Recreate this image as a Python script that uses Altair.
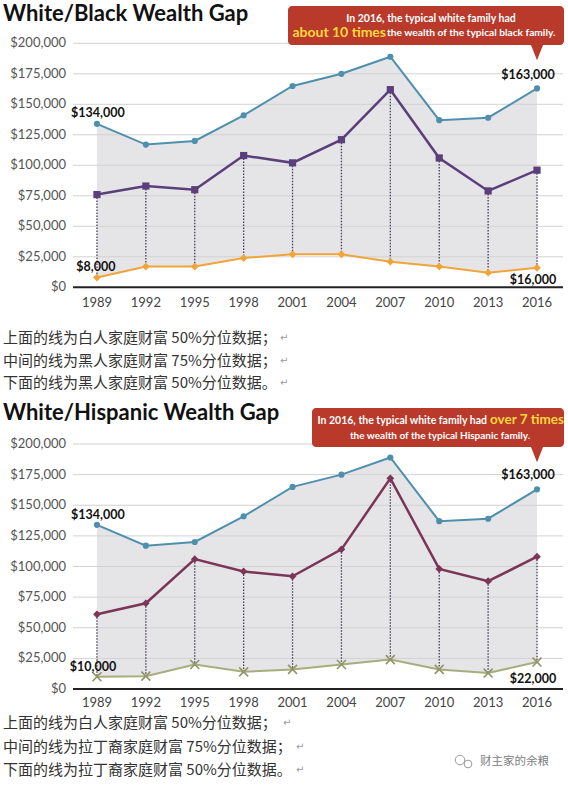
import altair as alt
import pandas as pd

# Survey years and family net worth series (2016 dollars)
years = [1989, 1992, 1995, 1998, 2001, 2004, 2007, 2010, 2013, 2016]
white_median = [134000, 117000, 120000, 141000, 165000, 175000, 189000, 137000, 139000, 163000]
black_p75 = [76000, 83000, 80000, 108000, 102000, 121000, 162000, 106000, 79000, 96000]
black_median = [8000, 17000, 17000, 24000, 27000, 27000, 21000, 17000, 12000, 16000]
hispanic_p75 = [61000, 70000, 106000, 96000, 92000, 114000, 172000, 98000, 88000, 108000]
hispanic_median = [10000, 10500, 20000, 14000, 16000, 20000, 24000, 16000, 13000, 22000]
y_ticks = [0, 25000, 50000, 75000, 100000, 125000, 150000, 175000, 200000]

titles = ["White/Black Wealth Gap", "White/Hispanic Wealth Gap"]
notes_black = [
    "上面的线为白人家庭财富 50%分位数据；",
    "中间的线为黑人家庭财富 75%分位数据；",
    "下面的线为黑人家庭财富 50%分位数据。",
]
notes_hispanic = [
    "上面的线为白人家庭财富 50%分位数据；",
    "中间的线为拉丁裔家庭财富 75%分位数据；",
    "下面的线为拉丁裔家庭财富 50%分位数据。",
]
watermark = "财主家的余粮"

FONT = "Lato"
RED = "#b9392a"
YELLOW = "#ffd83a"
WHITE_LINE = "#4f8fae"

xs = alt.Scale(domain=[1987.53, 2017.41], range=[73, 560])
X = alt.X("year:Q", scale=xs, axis=None)


def panel(mid, low, mid_color, mid_shape, mid_size, low_color, low_line_color,
          low_shape, low_size, low_filled, zero_px, top_px, xlab_y, labels):
    ys = alt.Scale(domain=[0, 200000], range=[zero_px, top_px])
    df = pd.DataFrame({"year": years, "white": white_median, "mid": mid, "low": low})
    ticks = pd.DataFrame({"v": y_ticks})
    base = alt.Chart(df)

    def Y(f):
        return alt.Y(f, scale=ys, axis=None)

    area = base.mark_area(color="#e5e5e8").encode(x=X, y=Y("white:Q"), y2="low:Q")
    grid = alt.Chart(ticks).transform_filter("datum.v > 0").mark_rule(
        color="#d2d2d2", strokeWidth=1
    ).encode(y=Y("v:Q"), x=alt.value(73), x2=alt.value(563))
    zero = alt.Chart(ticks).transform_filter("datum.v == 0").mark_rule(
        color="#222222", strokeWidth=2
    ).encode(y=Y("v:Q"), x=alt.value(73), x2=alt.value(563))
    ylab = alt.Chart(ticks).mark_text(
        align="right", baseline="middle", font=FONT, fontSize=13, color="#555555"
    ).encode(y=Y("v:Q"), x=alt.value(66), text=alt.Text("v:Q", format="$,"))
    xlab = base.mark_text(
        baseline="middle", font=FONT, fontSize=13, color="#444444"
    ).encode(x=X, y=alt.value(xlab_y), text=alt.Text("year:Q", format="d"))
    drops = base.mark_rule(
        color="#4b3b58", strokeWidth=1.3, strokeDash=[1.5, 1.5]
    ).encode(x=X, y=Y("mid:Q"), y2="low:Q")

    w_line = base.mark_line(color=WHITE_LINE, strokeWidth=2).encode(x=X, y=Y("white:Q"))
    w_pts = base.mark_point(filled=True, shape="circle", size=38, color=WHITE_LINE,
                            opacity=1).encode(x=X, y=Y("white:Q"))
    m_line = base.mark_line(color=mid_color, strokeWidth=2.5).encode(x=X, y=Y("mid:Q"))
    m_pts = base.mark_point(filled=True, shape=mid_shape, size=mid_size, color=mid_color,
                            opacity=1).encode(x=X, y=Y("mid:Q"))
    l_line = base.mark_line(color=low_line_color, strokeWidth=2).encode(x=X, y=Y("low:Q"))
    l_pts = base.mark_point(filled=low_filled, shape=low_shape, size=low_size,
                            color=low_color, strokeWidth=1.6,
                            opacity=1).encode(x=X, y=Y("low:Q"))

    value_labels = []
    for yr, val, dx, dy in labels:
        value_labels.append(
            alt.Chart(pd.DataFrame({"year": [yr], "v": [val]})).mark_text(
                font=FONT, fontSize=12.5, fontWeight="bold", color="#111111",
                dx=dx, dy=dy, baseline="middle"
            ).encode(x=X, y=Y("v:Q"), text=alt.Text("v:Q", format="$,"))
        )

    return [area, grid, zero, ylab, xlab, drops, w_line, m_line, l_line,
            w_pts, m_pts, l_pts] + value_labels


def text_at(s, x, y, size, color, weight="normal", align="left", font=FONT):
    return alt.Chart(pd.DataFrame({"t": [s]})).mark_text(
        font=font, fontSize=size, fontWeight=weight, color=color, align=align,
        baseline="middle"
    ).encode(x=alt.value(x), y=alt.value(y), text="t:N")


def callout(x0, y0, y1, tip_y):
    box = alt.Chart(pd.DataFrame({"k": [0]})).mark_rect(
        color=RED, cornerRadius=4
    ).encode(x=alt.value(x0), x2=alt.value(564), y=alt.value(y0), y2=alt.value(y1))
    # downward pointer from the box to the latest survey year
    tip = alt.Chart(pd.DataFrame({"year": [years[-1]]})).mark_point(
        shape="M-0.8,-1L0.8,-1L0,1Z", filled=True, size=300, color=RED, opacity=1
    ).encode(x=X, y=alt.value((y1 - 2 + tip_y) / 2))
    return [box, tip]


def notes(lines, y0, y1, arrow_xs):
    nd = pd.DataFrame({"i": [0, 1, 2], "t": lines, "a": ["↵"] * 3})
    ys = alt.Scale(domain=[0, 2], range=[y0, y1])
    out = [alt.Chart(nd).mark_text(
        font="Noto Sans CJK SC", fontSize=15, color="#333333", align="left",
        baseline="middle"
    ).encode(x=alt.value(3), y=alt.Y("i:Q", scale=ys, axis=None), text="t:N")]
    for i, ax in enumerate(arrow_xs):
        out.append(alt.Chart(nd.iloc[[i]]).mark_text(
            font="DejaVu Sans", fontSize=10, color="#9a9a9a", align="left",
            baseline="middle"
        ).encode(x=alt.value(ax), y=alt.Y("i:Q", scale=ys, axis=None), text="a:N"))
    return out


layers = []

# White/Black panel
layers += panel(black_p75, black_median, "#5a3f7a", "square", 52, "#f0a43a", "#f0a43a",
                "diamond", 60, True, 287.3, 43.3, 303,
                [(1989, white_median[0], 1, -11), (2016, white_median[-1], -9, -13),
                 (1989, black_median[0], -1, -11), (2016, black_median[-1], -4, 12)])
layers.append(text_at(titles[0], 3, 14, 22, "#111111", "bold"))
layers += callout(288, 6, 45, 60)
layers.append(text_at("In 2016, the typical white family had", 431, 19, 10.5, "white", "bold", "center"))
layers.append(text_at("about 10 times", 386, 33, 14, YELLOW, "bold", "right"))
layers.append(text_at(" the wealth of the typical black family.", 387, 33, 10.2, "white", "bold"))
layers += notes(notes_black, 338, 383, [280, 280, 280])

# White/Hispanic panel
layers += panel(hispanic_p75, hispanic_median, "#7b3557", "diamond", 60, "#8f9566", "#a8ad7c",
                "M-1,-1L1,1M-1,1L1,-1", 80, False, 689, 444, 703,
                [(1989, white_median[0], 1, -10), (2016, white_median[-1], -9, -14),
                 (1989, hispanic_median[0], -4, -10), (2016, hispanic_median[-1], -4, 17)])
layers.append(text_at(titles[1], 3, 413, 22, "#111111", "bold"))
layers += callout(312, 408, 447, 462)
layers.append(text_at("In 2016, the typical white family had", 487, 421, 10.5, "white", "bold", "right"))
layers.append(text_at("over 7 times", 490, 420, 13.5, YELLOW, "bold"))
layers.append(text_at("the wealth of the typical Hispanic family.", 440, 436, 10, "white", "bold", "center"))
layers += notes(notes_hispanic, 723, 770, [283, 296, 296])

# Account watermark: two small speech-bubble rings and the account name
for bx, by, bs in [(460, 760, 90), (468, 764, 60)]:
    layers.append(
        alt.Chart(pd.DataFrame({"k": [0]})).mark_point(
            shape="circle", filled=False, color="#9a9a9a", strokeWidth=1, opacity=1, size=bs
        ).encode(x=alt.value(bx), y=alt.value(by))
    )
layers.append(text_at(watermark, 480, 762, 11.5, "#808080", "normal", "left", "Noto Sans CJK SC"))

chart = alt.layer(*layers).resolve_scale(y="independent").properties(
    width=568, height=785, padding=0,
    autosize=alt.AutoSizeParams(type="none"), background="white"
).configure_view(stroke=None)

chart.save("out.html", embed_options={"renderer": "svg", "actions": False})
